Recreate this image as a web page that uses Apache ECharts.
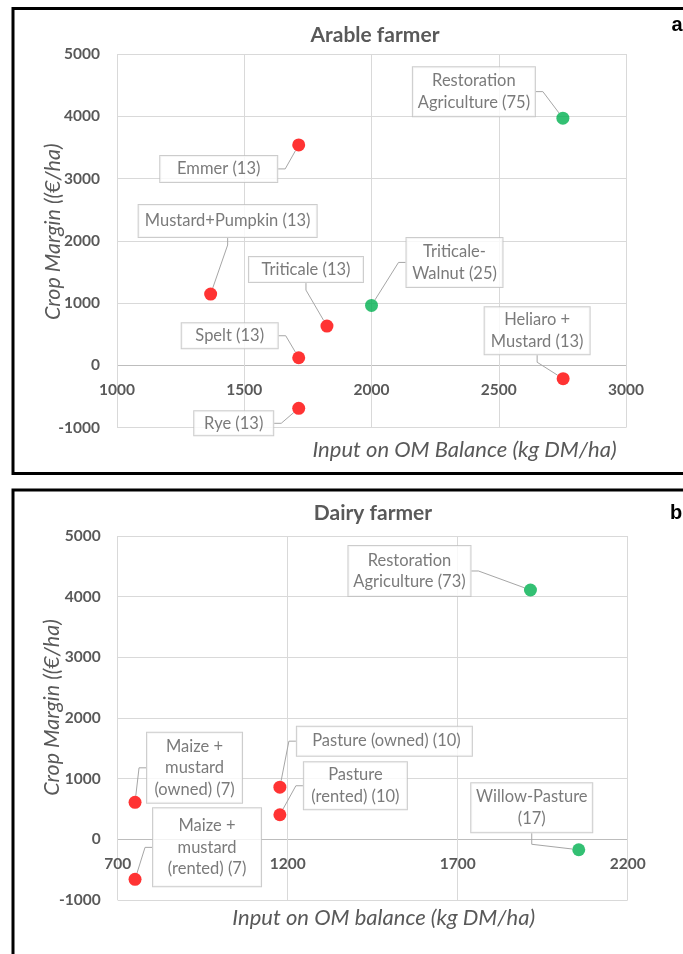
<!DOCTYPE html>
<html><head><meta charset="utf-8">
<script src="https://cdn.jsdelivr.net/npm/echarts@6/dist/echarts.min.js"></script>
<style>html,body{margin:0;padding:0;background:#fff}#c{width:683px;height:954px}</style>
</head><body><div id="c"></div>
<script>
// ---- data ----
const arableNames = ['Restoration\nAgriculture (75)', 'Emmer (13)', 'Mustard+Pumpkin (13)', 'Triticale (13)', 'Triticale-\nWalnut (25)', 'Spelt (13)', 'Rye (13)', 'Heliaro +\nMustard (13)'];
const arableInput = [2752, 1714, 1368, 1825, 2000, 1714, 1714, 2753];
const arableMargin = [3970, 3540, 1145, 630, 962, 122, -690, -215];
const arableGroup = ['diverse', 'single', 'single', 'single', 'diverse', 'single', 'single', 'single'];

const dairyNames = ['Restoration\nAgriculture (73)', 'Maize +\nmustard\n(owned) (7)', 'Maize +\nmustard\n(rented) (7)', ' Pasture (owned) (10)', 'Pasture\n(rented) (10)', 'Willow-Pasture\n(17)'];
const dairyInput = [1914, 751, 751, 1177, 1177, 2056];
const dairyMargin = [4110, 610, -660, 860, 405, -172];
const dairyGroup = ['diverse', 'single', 'single', 'single', 'single', 'diverse'];

const arableXTicks = [1000, 1500, 2000, 2500, 3000];
const dairyXTicks = [700, 1200, 1700, 2200];
const marginTicks = [-1000, 0, 1000, 2000, 3000, 4000, 5000];

// ---- presentation: callout offsets (px from point), box sizes, leader stub ----
const arableCallouts = [[-89, -26.5, 122, 49, 7], [-80, 24, 117, 26, 7], [17, -73, 178, 32, 7], [-21, -56.5, 114, 25, 7], [83, -43, 96, 49, 7], [-69, -22, 96, 25, 7], [-65, 15, 79, 24, 7], [-26, -48, 105, 47, 7]];
const dairyCallouts = [[-121, -19, 122, 50, 7], [59.5, -34.5, 95, 70, 7], [72, -32, 108, 78, 7], [104.5, -46, 175, 29, 7], [75.5, -29, 103, 47, 7], [-47, -42, 121, 49, 11]];

const groupColor = { single: '#FF0000', diverse: '#00B050' };
const FONT = 'Lato';
const GREY = '#595959';
const LH = 21.5;

function buildData(names, xs, ys, groups, callouts) {
  return names.map((n, i) => {
    const lines = n.split('\n').length;
    const c = callouts[i];
    return {
      name: n,
      value: [xs[i], ys[i]],
      itemStyle: { color: groupColor[groups[i]] },
      label: { width: c[2] - 8, padding: [Math.max(0, (c[3] - lines * LH) / 2), 4] },
      labelLine: { length2: c[4] }
    };
  });
}

function xAxisCfg(grid, ticks, name, shift, gap, labelMargin) {
  return {
    gridIndex: grid, type: 'value',
    min: ticks[0], max: ticks[ticks.length - 1], interval: ticks[1] - ticks[0],
    axisLine: { show: false, onZero: false },
    axisTick: { show: false },
    splitLine: { show: true, lineStyle: { color: '#d9d9d9', width: 1 } },
    axisLabel: { margin: labelMargin, color: GREY, fontFamily: FONT, fontSize: 15.5, fontWeight: 'bold', formatter: v => String(v) },
    name: name, nameLocation: 'middle', nameGap: gap, nameMoveOverlap: false,
    nameTextStyle: { fontFamily: FONT, fontStyle: 'italic', fontSize: 22, color: GREY, padding: [0, 0, 0, shift * 2] }
  };
}
function yAxisCfg(grid, shift, gap) {
  return {
    gridIndex: grid, type: 'value',
    min: marginTicks[0], max: marginTicks[marginTicks.length - 1], interval: marginTicks[1] - marginTicks[0],
    axisLine: { show: false }, axisTick: { show: false },
    splitLine: { show: true, lineStyle: { color: ['#d9d9d9', '#bdbdbd', '#d9d9d9', '#d9d9d9', '#d9d9d9', '#d9d9d9', '#d9d9d9'], width: 1 } },
    axisLabel: { margin: 17, color: GREY, fontFamily: FONT, fontSize: 15.5, fontWeight: 'bold', formatter: v => String(v) },
    name: 'Crop Margin ((€/ha)', nameLocation: 'middle', nameGap: gap, nameMoveOverlap: false,
    nameTextStyle: { fontFamily: FONT, fontStyle: 'italic', fontSize: 21.5, color: GREY, padding: [0, 0, 0, shift * 2] }
  };
}
function seriesCfg(idx, data, callouts) {
  return {
    type: 'scatter', xAxisIndex: idx, yAxisIndex: idx,
    symbol: 'circle', symbolSize: 13, data: data,
    label: {
      show: true, position: 'inside', formatter: p => p.name,
      color: GREY, fontFamily: FONT, fontSize: 16.5, lineHeight: LH,
      backgroundColor: '#ffffff', borderColor: '#bfbfbf', borderWidth: 1, align: 'center'
    },
    labelLine: { show: true, length2: 7, smooth: false, lineStyle: { color: '#a6a6a6', width: 1 } },
    labelLayout: p => ({ dx: callouts[p.dataIndex][0], dy: callouts[p.dataIndex][1] }),
    emphasis: { disabled: true }
  };
}

const chart = echarts.init(document.getElementById('c'), null, { renderer: 'canvas' });
chart.setOption({
  animation: false,
  backgroundColor: '#ffffff',
  title: [
    { text: 'Arable farmer', left: 375, top: 25, textAlign: 'center', padding: 0, textStyle: { fontFamily: FONT, fontSize: 21, fontWeight: 'bold', color: GREY } },
    { text: 'Dairy farmer', left: 373, top: 503, textAlign: 'center', padding: 0, textStyle: { fontFamily: FONT, fontSize: 21, fontWeight: 'bold', color: GREY } }
  ],
  grid: [
    { left: 117, top: 54, width: 509, height: 373.6, outerBoundsMode: 'none', containLabel: false },
    { left: 117.7, top: 536, width: 510, height: 364, outerBoundsMode: 'none', containLabel: false }
  ],
  xAxis: [
    xAxisCfg(0, arableXTicks, 'Input on OM Balance (kg DM/ha)', 93, 11.5, -46),
    xAxisCfg(1, dairyXTicks, 'Input on OM balance (kg DM/ha)', 11, 7, -44.5)
  ],
  yAxis: [yAxisCfg(0, 9, 53), yAxisCfg(1, 10.5, 55)],
  series: [
    seriesCfg(0, buildData(arableNames, arableInput, arableMargin, arableGroup, arableCallouts), arableCallouts),
    seriesCfg(1, buildData(dairyNames, dairyInput, dairyMargin, dairyGroup, dairyCallouts), dairyCallouts)
  ],
  graphic: [
    { type: 'rect', shape: { x: 13, y: 8.5, width: 700, height: 465 }, style: { fill: 'none', stroke: '#000', lineWidth: 3 }, silent: true },
    { type: 'rect', shape: { x: 13, y: 490, width: 700, height: 520 }, style: { fill: 'none', stroke: '#000', lineWidth: 3 }, silent: true },
    { type: 'text', x: 677, y: 25, style: { text: 'a', fontFamily: 'Liberation Sans', fontSize: 20, fontWeight: 'bold', fill: '#000', align: 'center', verticalAlign: 'middle' } },
    { type: 'text', x: 676, y: 513, style: { text: 'b', fontFamily: 'Liberation Sans', fontSize: 20, fontWeight: 'bold', fill: '#000', align: 'center', verticalAlign: 'middle' } }
  ]
});
</script></body></html>
